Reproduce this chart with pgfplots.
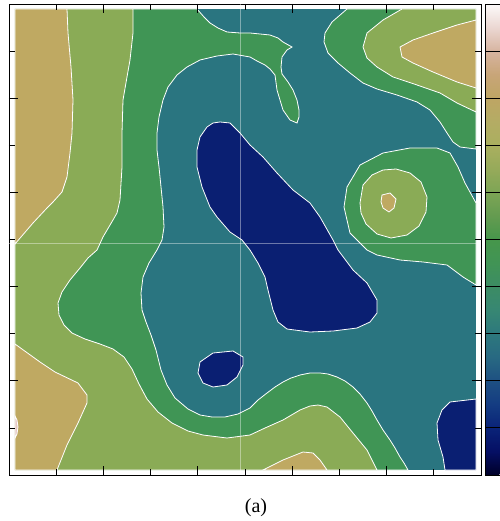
\documentclass[border=0pt]{standalone}
\usepackage{fontspec}
\setmainfont{Liberation Serif}
\usepackage{pgfplots}
\pgfplotsset{compat=1.18}

\definecolor{cnavy}{RGB}{10,31,114}
\definecolor{cteal}{RGB}{42,117,128}
\definecolor{cgreen}{RGB}{64,149,85}
\definecolor{colive}{RGB}{138,171,86}
\definecolor{ctan}{RGB}{191,169,98}
\definecolor{cpink}{RGB}{228,200,195}

% colorbar map, positions are twice the level value
\pgfplotsset{colormap={earth}{
  rgb255(0)=(0,0,40) rgb255(1)=(5,15,100) rgb255(2)=(10,35,120)
  rgb255(3)=(20,60,130) rgb255(4)=(30,80,130) rgb255(5)=(40,105,130)
  rgb255(6)=(45,120,125) rgb255(7)=(55,135,115) rgb255(8)=(60,140,100)
  rgb255(9)=(65,148,85) rgb255(10)=(70,150,75) rgb255(11)=(100,155,80)
  rgb255(12)=(125,165,85) rgb255(13)=(150,170,90) rgb255(14)=(170,175,95)
  rgb255(15)=(180,172,100) rgb255(16)=(190,165,100) rgb255(17)=(200,165,120)
  rgb255(18)=(215,180,160) rgb255(19)=(235,215,210) rgb255(20)=(252,250,250)
}}

\begin{document}
\begin{tikzpicture}
\begin{axis}[
    at={(9pt,46pt)}, anchor=south west,
    scale only axis, width=472pt, height=471pt,
    xmin=9, xmax=481, ymin=4, ymax=475, y dir=reverse,
    axis on top,
    xtick={103.4,197.8,292.2,386.6}, minor xtick={56.2,150.6,245,339.4,433.8},
    ytick={98.2,192.4,286.6,380.8}, minor ytick={51.1,145.3,239.5,333.7,427.9},
    xticklabels={}, yticklabels={},
    major tick length=9pt, minor tick length=6pt,
    tick style={black, line width=0.8pt},
    axis line style={line width=0.8pt},
    extra x ticks={240.5}, extra y ticks={243.7},
    extra x tick labels={}, extra y tick labels={},
    extra tick style={grid=major, major tick length=0pt,
        grid style={white, opacity=0.4, line width=0.6pt}},
    colorbar, colormap name=earth, point meta min=0, point meta max=20,
    colorbar style={
        at={(parent axis.north east)}, anchor=north west, xshift=-4.5pt,
        scale only axis, width=25pt, height=471pt,
        ytick={2,4,...,18}, yticklabels={},
        major tick length=0pt,
        ymajorgrids, grid style={black, line width=0.8pt},
        axis line style={line width=0.8pt},
        axis on top,
    },
]
% base level
\addplot[fill=cteal, draw=none] coordinates {(15,9) (476,9) (476,470) (15,470)} -- cycle;
% green band on the left
\addplot[fill=cgreen, draw=white, line width=0.8pt] coordinates {
(15,9) (197,9) (204,17) (210,23) (218,28) (227,32) (240,33) (250,33) (260,34) (270,35)
(278,38) (283,42) (292,47) (287,50) (282,57) (281,67) (282,74) (288,82) (293,90) (297,100)
(299,110) (299,117) (297,123) (290,120) (283,110) (280,100) (277,90) (275,75) (270,69)
(265,65) (257,61) (250,57) (233,54) (217,56) (200,60) (187,67) (177,75) (168,87) (163,100)
(159,117) (157,133) (157,150) (159,167) (161,187) (163,207) (164,227) (162,240) (157,250)
(149,263) (143,277) (141,293) (142,310) (146,322) (151,335) (156,350) (161,370) (167,385)
(175,398) (188,409) (200,415) (212,417) (225,417) (238,414) (250,408) (258,400) (267,393)
(275,387) (283,382) (291,378) (300,375) (310,373) (320,373) (328,374) (337,377) (345,381)
(353,387) (360,394) (367,403) (372,411) (377,420) (383,430) (390,440) (395,448) (400,457)
(404,463) (408,470) (15,470)} -- cycle;
% olive on the left
\addplot[fill=colive, draw=white, line width=0.8pt] coordinates {
(15,9) (133,9) (133,33) (130,60) (127,77) (123,100) (122,133) (122,167) (120,200) (117,213)
(113,220) (103,237) (97,250) (88,258) (80,268) (70,280) (62,292) (58,303) (59,315) (64,325)
(72,333) (85,339) (100,344) (113,349) (124,357) (132,369) (139,384) (147,399) (158,412)
(172,423) (188,431) (203,435) (227,438) (250,435) (265,428) (283,420) (300,410) (310,406)
(318,405) (327,407) (340,417) (353,433) (367,450) (377,470) (15,470)} -- cycle;
% tan, top left
\addplot[fill=ctan, draw=white, line width=0.8pt] coordinates {
(15,9) (67,9) (68,33) (71,67) (73,100) (72,133) (70,153) (67,177) (62,192) (53,202)
(47,208) (33,223) (15,244)} -- cycle;
% tan, bottom left
\addplot[fill=ctan, draw=white, line width=0.8pt] coordinates {
(15,344) (40,362) (55,372) (78,383) (87,395) (87,403) (78,423) (67,445) (57,470) (15,470)} -- cycle;
\addplot[fill=cpink, draw=white, line width=0.8pt] coordinates {
(15,416) (17,420) (18,427) (17,434) (15,438)} -- cycle;
% tan, bottom middle
\addplot[fill=ctan, draw=white, line width=0.8pt] coordinates {
(263,470) (283,460) (303,452) (313,453) (320,460) (327,470)} -- cycle;
% top right
\addplot[fill=cgreen, draw=white, line width=0.8pt] coordinates {
(347,9) (332,22) (325,33) (324,42) (328,53) (338,63) (350,73) (363,83) (377,89) (397,95)
(417,102) (430,110) (440,122) (447,133) (453,142) (460,147) (476,149) (476,9)} -- cycle;
\addplot[fill=colive, draw=white, line width=0.8pt] coordinates {
(402,9) (383,20) (367,33) (363,47) (367,58) (377,67) (393,77) (417,85) (440,93) (457,103)
(476,112) (476,9)} -- cycle;
\addplot[fill=ctan, draw=white, line width=0.8pt] coordinates {
(476,20) (457,25) (433,33) (413,40) (400,47) (402,57) (413,63) (433,72) (457,82) (476,88)} -- cycle;
% ring on the right
\addplot[fill=cgreen, draw=white, line width=0.8pt] coordinates {
(476,203) (465,183) (458,167) (450,153) (437,148) (410,148) (383,153) (360,165) (347,187)
(344,207) (350,233) (367,250) (377,255) (400,260) (423,262) (447,265) (463,277) (476,285)} -- cycle;
\addplot[fill=colive, draw=white, line width=0.8pt] coordinates {
(360,203) (363,185) (372,175) (383,170) (396,169) (410,173) (421,182) (427,197) (426,212)
(419,226) (407,235) (391,238) (377,234) (366,224) (361,213)} -- cycle;
\addplot[fill=ctan, draw=white, line width=0.8pt] coordinates {
(382,195) (390,193) (396,199) (394,208) (389,212) (383,208) (381,202)} -- cycle;
% lows
\addplot[fill=cnavy, draw=white, line width=0.8pt] coordinates {
(207,127) (213,123) (220,122) (230,123) (240,133) (250,145) (263,157) (277,173) (293,190)
(310,203) (320,217) (333,240) (338,250) (353,270) (367,283) (377,300) (377,313) (370,322)
(357,328) (333,331) (310,332) (287,329) (278,322) (273,310) (268,290) (265,277) (258,263)
(250,250) (242,240) (230,232) (217,217) (210,207) (202,187) (197,167) (197,150) (200,137)} -- cycle;
\addplot[fill=cnavy, draw=white, line width=0.8pt] coordinates {
(198,373) (200,362) (213,353) (233,351) (243,357) (243,365) (237,377) (227,385) (213,387)
(203,383)} -- cycle;
\addplot[fill=cnavy, draw=white, line width=0.8pt] coordinates {
(476,399) (450,402) (442,410) (437,423) (438,440) (443,457) (445,470) (476,470)} -- cycle;
\end{axis}
\node[anchor=base, font=\fontsize{20}{24}\selectfont] at (256pt,9pt) {(a)};
\pgfresetboundingbox
\path (0,0) rectangle (499pt,521pt);
\end{tikzpicture}
\end{document}
